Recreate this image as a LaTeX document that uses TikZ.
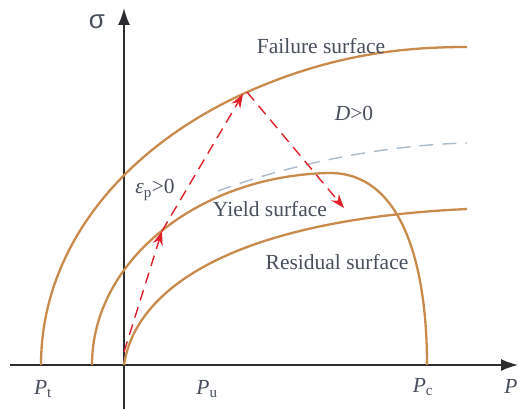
\documentclass[tikz,border=0pt]{standalone}
\usepackage{fontspec}
\setmainfont{Liberation Serif}
\newfontfamily\sigmafont{Liberation Sans}
\usetikzlibrary{arrows.meta}

\definecolor{surfc}{RGB}{201,139,75}
\definecolor{axisc}{RGB}{45,45,48}
\definecolor{labelc}{RGB}{72,78,92}
\definecolor{loadc}{RGB}{226,32,42}
\definecolor{damc}{RGB}{168,188,204}

\tikzset{
    surface/.style={surfc, line width=2.3pt},
    axisline/.style={axisc, line width=1.8pt, -{Latex[length=17pt,width=12pt]}},
    loadpath/.style={loadc, line width=1.4pt, dash pattern=on 11pt off 7pt,
        -{Stealth[length=14pt,width=10pt]}},
    dampath/.style={damc, line width=1.4pt, dash pattern=on 14pt off 9pt},
    lbl/.style={labelc, font=\fontsize{21.5}{24}\selectfont, inner sep=0pt},
}

\begin{document}
\begin{tikzpicture}[x=1pt, y=-1pt]

    \useasboundingbox (0,0) rectangle (518,409);

    % Axes
    \coordinate (O) at (124,365);
    \coordinate (xend) at (518,365);
    \coordinate (yend) at (124,8);
    \draw[axisline] (10,365) -- (xend);
    \draw[axisline] (124,409) -- (yend);

    % Failure surface
    \draw[surface] (41,365) .. controls (41,250) and (120,150) .. (245,93)
        .. controls (330,55) and (400,47) .. (467,47);

    % Yield surface
    \draw[surface] (92,365) .. controls (92,260) and (200,175) .. (330,173)
        .. controls (400,173) and (427,260) .. (427,365);

    % Residual surface
    \draw[surface] (O) .. controls (135,290) and (230,220) .. (467,209);

    % Damage onset (dashed)
    \draw[dampath] (218,191) .. controls (285,166) and (380,145) .. (467,143);

    % Loading path
    \coordinate (L0) at (124,352);
    \coordinate (L1) at (162,231);
    \coordinate (L2) at (243,94);
    \coordinate (L3) at (247,92);
    \coordinate (L4) at (344,208);
    \draw[loadpath] (L0) -- (L1);
    \draw[loadpath] (L1) -- (L2);
    \draw[loadpath] (L3) -- (L4);

    % Labels
    \node[lbl, font=\sigmafont\fontsize{26}{28}\selectfont] (sig) at (97,22) {σ};
    \node[lbl] (fail) at (321,46) {Failure surface};
    \node[lbl] (dam) at (354,113) {\textit{D}>0};
    \node[lbl] (eps) at (155,190) {\textit{ε}\textsubscript{p}>0};
    \node[lbl] (yield) at (270,209) {Yield surface};
    \node[lbl] (resid) at (337,262) {Residual surface};
    \node[lbl] (pt) at (43,389) {\textit{P}\textsubscript{t}};
    \node[lbl] (pu) at (207,389) {\textit{P}\textsubscript{u}};
    \node[lbl] (pc) at (423,387) {\textit{P}\textsubscript{c}};
    \node[lbl] (pax) at (511,386) {\textit{P}};

\end{tikzpicture}
\end{document}
